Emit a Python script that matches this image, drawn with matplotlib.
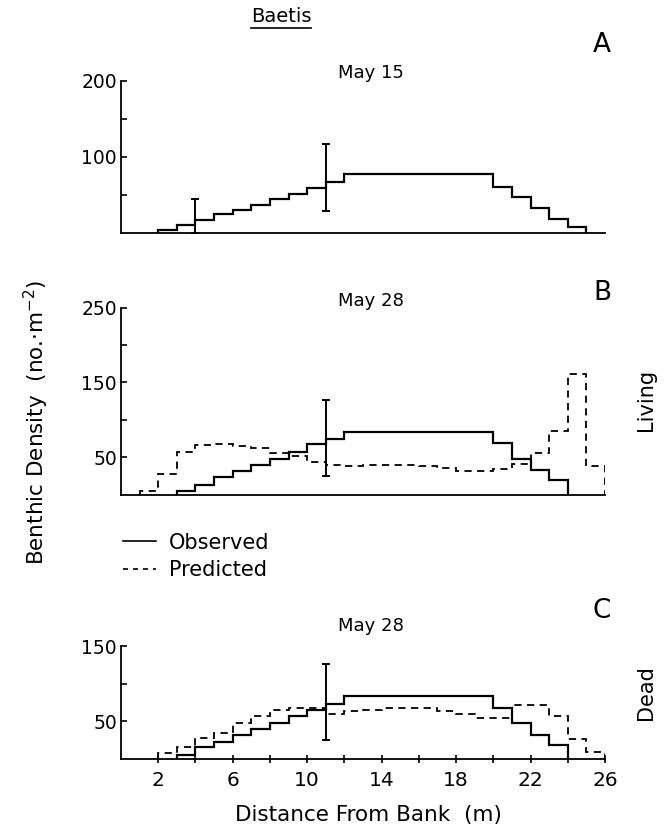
import numpy as np
import matplotlib
matplotlib.use("Agg")
from matplotlib import pyplot as plt
from matplotlib.lines import Line2D

# panel A, May 15 (observed only)
a_obs_edges = [2, 3, 4, 5, 6, 7, 8, 9, 10, 11, 12, 20, 21, 22, 23, 24, 25]
a_obs = [3.5, 10, 17, 25, 30, 37, 45, 51, 59, 67, 77, 60, 47, 32, 18, 7]
a_err_x = [4, 11]
a_err_lo = [0, 29]
a_err_hi = [45, 117]

# panel B, May 28 living
b_obs_edges = [3, 4, 5, 6, 7, 8, 9, 10, 11, 12, 20, 21, 22, 23, 24]
b_obs = [5, 13, 23, 31, 39, 48, 57, 68, 74, 84, 69, 48, 33, 19]
b_pred_edges = list(range(1, 27))
b_pred = [4.5, 27, 57, 66, 67, 65, 62, 55, 52, 43, 40, 38, 39, 39, 39, 38,
          36, 32, 31, 34, 41, 56, 85, 161, 38]
b_err_x = [11]
b_err_lo = [24.5]
b_err_hi = [126]

# panel C, May 28 dead
c_obs_edges = [3, 4, 5, 6, 7, 8, 9, 10, 11, 12, 20, 21, 22, 23, 24]
c_obs = [4.4, 16, 22, 31, 40, 48, 57, 65, 73, 83, 67, 48, 32, 18]
c_pred_edges = list(range(2, 27))
c_pred = [7.5, 16, 27.5, 34, 48, 57, 65, 68, 67, 59, 63, 65, 67, 67, 67, 64,
          60, 54, 54, 71, 71, 57, 26, 8.4]
c_err_x = [11]
c_err_lo = [25]
c_err_hi = [126]

x_ticks = list(range(2, 27, 2))
x_labels = [2, 6, 10, 14, 18, 22, 26]

plt.rcParams['font.family'] = ['DejaVu Sans']
plt.rcParams['mathtext.fontset'] = 'dejavusans'

W, H = 669, 840
fig = plt.figure(figsize=(W / 100, H / 100), dpi=100)


def px_axes(top, bottom):
    left = 121 / W
    width = (605 - 121) / W
    return fig.add_axes([left, 1 - bottom / H, width, (bottom - top) / H])


def style(ax, ymax, major, minor, show_x=False):
    ax.set_xlim(0, 26)
    ax.set_ylim(0, ymax)
    for s in ['top', 'right']:
        ax.spines[s].set_visible(False)
    for s in ['left', 'bottom']:
        ax.spines[s].set_linewidth(1.3)
    ax.set_yticks(major)
    ax.set_yticks(minor, minor=True)
    ax.tick_params(axis='y', which='both', direction='in', length=4,
                   width=1.2, labelsize=13.5, pad=3)
    if show_x:
        ax.set_xticks(x_ticks)
        ax.set_xticklabels([str(t) if t in x_labels else '' for t in x_ticks])
        ax.tick_params(axis='x', direction='inout', length=6, width=1.2,
                       labelsize=14.5, pad=6)
    else:
        ax.set_xticks([])


def errbars(ax, xs, lo, hi):
    lo = np.array(lo, dtype=float)
    hi = np.array(hi, dtype=float)
    ax.errorbar(xs, (lo + hi) / 2, yerr=(hi - lo) / 2, fmt='none',
                ecolor='black', elinewidth=1.4, capsize=3, capthick=1.4)


# A
axA = px_axes(80.7, 232.7)
axA.stairs(a_obs, a_obs_edges, baseline=0, color='black', linewidth=1.6)
errbars(axA, a_err_x, a_err_lo, a_err_hi)
style(axA, 200, [100, 200], [50, 150])

# B
axB = px_axes(307.7, 494.5)
axB.stairs(b_obs, b_obs_edges, baseline=0, color='black', linewidth=1.6)
axB.stairs(b_pred, b_pred_edges, baseline=0, color='black',
           linewidth=1.3, linestyle=(0, (4, 3)))
errbars(axB, b_err_x, b_err_lo, b_err_hi)
style(axB, 250, [50, 150, 250], [100, 200])

# C
axC = px_axes(646, 758.7)
axC.stairs(c_obs, c_obs_edges, baseline=0, color='black', linewidth=1.6)
axC.stairs(c_pred, c_pred_edges, baseline=0, color='black',
           linewidth=1.3, linestyle=(0, (4, 3)))
errbars(axC, c_err_x, c_err_lo, c_err_hi)
style(axC, 150, [50, 150], [100], show_x=True)


# texts
def ftext(x, y, s, **kw):
    fig.text(x / W, 1 - y / H, s, **kw)


ftext(281, 16, 'Baetis', fontsize=14, ha='center', va='center')
fig.add_artist(Line2D([251 / W, 311 / W], [1 - 28 / H, 1 - 28 / H],
                      color='black', linewidth=1.2))
ftext(371, 73, 'May 15', fontsize=13, ha='center', va='center')
ftext(371, 301, 'May 28', fontsize=13, ha='center', va='center')
ftext(371, 626, 'May 28', fontsize=13, ha='center', va='center')
ftext(602, 45, 'A', fontsize=19, ha='center', va='center')
ftext(602, 293, 'B', fontsize=19, ha='center', va='center')
ftext(602, 611, 'C', fontsize=19, ha='center', va='center')
ftext(646, 400, 'Living', fontsize=15, ha='center', va='center', rotation=90)
ftext(646, 693, 'Dead', fontsize=15, ha='center', va='center', rotation=90)
ftext(36, 422, r'Benthic Density  (no.$\cdot$m$^{-2}$)', fontsize=15.5,
      ha='center', va='center', rotation=90)
ftext(368, 815, 'Distance From Bank  (m)', fontsize=15.5, ha='center',
      va='center')

fig.legend([Line2D([], [], color='black', linewidth=1.2),
            Line2D([], [], color='black', linewidth=1.2, linestyle=(0, (3, 3)))],
           ['Observed', 'Predicted'], loc='upper left',
           bbox_to_anchor=(104 / W, 1 - 514 / H), frameon=False,
           fontsize=15, handlelength=1.6, handletextpad=0.6, labelspacing=0.35)

fig.savefig('out.png', dpi=100)
